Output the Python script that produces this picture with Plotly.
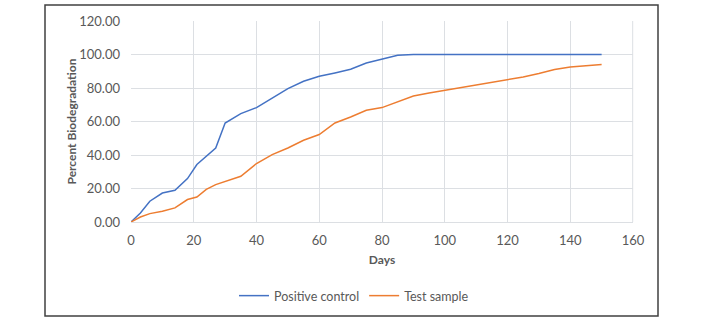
import plotly.graph_objects as go

# Sampling days
days = [0, 3, 6, 10, 14, 18, 21, 24, 27, 30, 35, 40, 45, 50, 55, 60, 65, 70, 75, 80,
        85, 90, 95, 100, 105, 110, 115, 120, 125, 130, 135, 140, 145, 150]

# Percent biodegradation
positive_control = [0, 5.4, 12.4, 17.3, 18.9, 25.9, 34.3, 39.0, 44.2, 59.1, 64.7, 68.3,
                    74.0, 79.6, 84.0, 87.0, 89.0, 91.2, 94.9, 97.0, 99.5, 100, 100, 100,
                    100, 100, 100, 100, 100, 100, 100, 100, 100, 100]
test_sample = [0, 3.0, 5.0, 6.4, 8.4, 13.4, 14.9, 19.5, 22.3, 24.3, 27.3, 34.9, 40.2, 44.2,
               48.8, 52.2, 59.1, 62.7, 66.7, 68.3, 71.6, 75.2, 77.0, 78.6, 79.8, 81.6, 83.0,
               84.6, 86.6, 88.6, 91.0, 92.5, 93.4, 94.1]

x_ticks = [0, 20, 40, 60, 80, 100, 120, 140, 160]
y_ticks = [0, 20, 40, 60, 80, 100, 120]

FONT = "Lato, 'Open Sans', sans-serif"
TXT = "#595959"
GRID = "#DCDFE3"

fig = go.Figure()
fig.add_trace(go.Scatter(x=days, y=positive_control, mode="lines", name="Positive control",
                         line=dict(color="#4472C4", width=1.5)))
fig.add_trace(go.Scatter(x=days, y=test_sample, mode="lines", name="Test sample",
                         line=dict(color="#ED7D31", width=1.5)))

W, H = 706, 326
L, R, T, B = 131, 73, 21, 104
pw, ph = W - L - R, H - T - B

def px_x(p):
    return (p - L) / pw

def px_y(p):
    return (H - B - p) / ph

fig.update_layout(
    width=W, height=H,
    margin=dict(l=L, r=R, t=T, b=B),
    paper_bgcolor="white", plot_bgcolor="white",
    font=dict(family=FONT, size=13, color=TXT),
    showlegend=True,
    legend=dict(orientation="h", x=px_x(354), y=px_y(296), xanchor="center", yanchor="middle",
                font=dict(size=12.5, color=TXT), bgcolor="rgba(0,0,0,0)", itemwidth=30),
    xaxis=dict(range=[0, 160], tickvals=x_ticks, ticktext=[str(v) for v in x_ticks],
               showgrid=True, gridcolor=GRID, gridwidth=1, zeroline=False,
               showline=True, linecolor=GRID, linewidth=1, ticks="",
               ticklabelstandoff=6,
               title=dict(text="<b>Days</b>", font=dict(size=12, color=TXT), standoff=9),
               tickfont=dict(size=13, color=TXT)),
    yaxis=dict(range=[0, 120], tickvals=y_ticks, ticktext=[f"{v:.2f}" for v in y_ticks],
               showgrid=True, gridcolor=GRID, gridwidth=1, zeroline=False,
               showline=False, ticks="", ticklabelstandoff=10,
               title=dict(text="<b>Percent Biodegradation</b>", font=dict(size=12, color=TXT), standoff=0),
               tickfont=dict(size=13, color=TXT)),
    shapes=[
        dict(type="rect", xref="paper", yref="paper",
             x0=px_x(45), x1=px_x(658), y0=px_y(316), y1=px_y(5),
             line=dict(color="#404040", width=1.5), fillcolor="rgba(0,0,0,0)", layer="below"),
        dict(type="line", xref="paper", yref="paper",
             x0=px_x(632.7), x1=px_x(632.7), y0=0, y1=1,
             line=dict(color=GRID, width=1), layer="below"),
    ],
)

fig.write_html("out.html")
